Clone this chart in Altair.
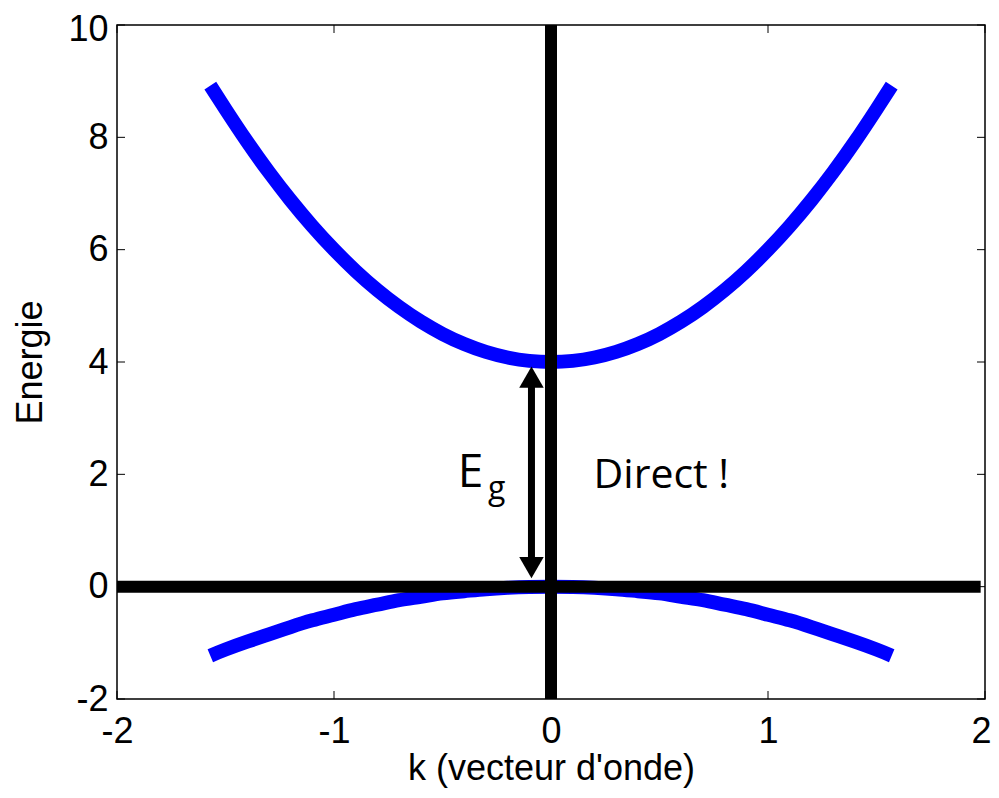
import altair as alt
import pandas as pd

# ---- data ----
k_vals = [-1.57, -1.5, -1.4, -1.3, -1.2, -1.1, -1.0, -0.9, -0.8, -0.7, -0.6, -0.5, -0.4, -0.3, -0.2, -0.1, 0.0,
          0.1, 0.2, 0.3, 0.4, 0.5, 0.6, 0.7, 0.8, 0.9, 1.0, 1.1, 1.2, 1.3, 1.4, 1.5, 1.57]
conduction = [8.92, 8.5, 7.92, 7.38, 6.88, 6.42, 6.0, 5.62, 5.28, 4.98, 4.72, 4.5, 4.32, 4.18, 4.08, 4.02, 4.0,
              4.02, 4.08, 4.18, 4.32, 4.5, 4.72, 4.98, 5.28, 5.62, 6.0, 6.42, 6.88, 7.38, 7.92, 8.5, 8.92]
valence = [-1.23, -1.12, -0.98, -0.85, -0.72, -0.6, -0.5, -0.4, -0.32, -0.24, -0.18, -0.12, -0.08, -0.045, -0.02, -0.005, 0.0,
           -0.005, -0.02, -0.045, -0.08, -0.12, -0.18, -0.24, -0.32, -0.4, -0.5, -0.6, -0.72, -0.85, -0.98, -1.12, -1.23]

x_ticks = [-2, -1, 0, 1, 2]
y_ticks = [-2, 0, 2, 4, 6, 8, 10]

# horizontal (E=0) and vertical (k=0) reference lines
hline_k = [-2.0, 1.98]
vline_E = [-2.0, 10.0]

# gap arrow (k position, bottom, top)
arrow_k = -0.09
arrow_bottom = 0.34
arrow_top = 3.73

# annotations: (label, k, E)
ann_E = ("E", -0.43, 1.775)
ann_g = ("g", -0.29, 1.555)
ann_direct = ("Direct !", 0.196, 1.757)

W, H = 868, 674
AXIS_FONT = "Liberation Sans"
ANN_FONT = "Open Sans"

xscale = alt.Scale(domain=[-2, 2], nice=False, zero=False)
yscale = alt.Scale(domain=[-2, 10], nice=False, zero=False)

xaxis = alt.Axis(values=x_ticks, tickSize=0, domain=False, grid=False,
                 labelFont=AXIS_FONT, labelFontSize=36, labelPadding=15,
                 labelFlush=False, labelOverlap=False, labelColor="black",
                 labelExpr="'' + datum.value",
                 labelOffset={"condition": {"test": "datum.value == 2", "value": -4}, "value": 0},
                 titleFont=AXIS_FONT, titleFontSize=36, titleFontWeight="normal",
                 titlePadding=2, titleColor="black")
yaxis = alt.Axis(values=y_ticks, tickSize=0, domain=False, grid=False,
                 labelFont=AXIS_FONT, labelFontSize=36, labelPadding=9,
                 labelFlush=False, labelOverlap=False, labelColor="black",
                 labelExpr="'' + datum.value",
                 labelOffset={"condition": {"test": "datum.value == 10", "value": 4}, "value": 0},
                 titleFont=AXIS_FONT, titleFontSize=36, titleFontWeight="normal",
                 titlePadding=18, titleColor="black")


def X(field):
    return alt.X(field, type="quantitative", scale=xscale, axis=xaxis, title="k (vecteur d'onde)")


def Y(field):
    return alt.Y(field, type="quantitative", scale=yscale, axis=yaxis, title="Energie")


bands = pd.DataFrame({
    "k": k_vals * 2,
    "E": conduction + valence,
    "band": ["c"] * len(k_vals) + ["v"] * len(k_vals),
    "order": list(range(len(k_vals))) * 2,
})

curves = alt.Chart(bands).mark_line(color="#0000FF", strokeWidth=14, strokeCap="butt",
                                    interpolate="natural").encode(
    x=X("k"), y=Y("E"), detail="band:N", order="order:Q")

hline = alt.Chart(pd.DataFrame({"k": [hline_k[0]], "k2": [hline_k[1]], "E": [0.0]})).mark_rule(
    color="black", strokeWidth=12, strokeCap="butt").encode(x=X("k"), x2="k2", y=Y("E"))

vline = alt.Chart(pd.DataFrame({"k": [0.0], "E": [vline_E[0]], "E2": [vline_E[1]]})).mark_rule(
    color="black", strokeWidth=12, strokeCap="butt").encode(x=X("k"), y=Y("E"), y2="E2")

shaft = alt.Chart(pd.DataFrame({"k": [arrow_k], "E": [arrow_bottom], "E2": [arrow_top]})).mark_rule(
    color="black", strokeWidth=7, strokeCap="butt").encode(x=X("k"), y=Y("E"), y2="E2")

head_up = alt.Chart(pd.DataFrame({"k": [arrow_k], "E": [arrow_top]})).mark_point(
    shape="triangle-up", filled=True, size=600, color="black", opacity=1).encode(x=X("k"), y=Y("E"))
head_down = alt.Chart(pd.DataFrame({"k": [arrow_k], "E": [arrow_bottom]})).mark_point(
    shape="triangle-down", filled=True, size=600, color="black", opacity=1).encode(x=X("k"), y=Y("E"))


def label(item, size):
    df = pd.DataFrame({"t": [item[0]], "k": [item[1]], "E": [item[2]]})
    return alt.Chart(df).mark_text(font=ANN_FONT, fontSize=size, align="left",
                                   baseline="alphabetic", color="black").encode(
        x=X("k"), y=Y("E"), text="t:N")


txt_E = label(ann_E, 46)
txt_g = label(ann_g, 32)
txt_direct = label(ann_direct, 41)

# MATLAB-style inward ticks on all four sides
ytick_df = pd.DataFrame({"E": y_ticks})
xtick_df = pd.DataFrame({"k": x_ticks})
tl = alt.Chart(ytick_df).mark_rule(color="black", strokeWidth=1).encode(
    y=Y("E"), x=alt.value(0), x2=alt.value(8))
tr = alt.Chart(ytick_df).mark_rule(color="black", strokeWidth=1).encode(
    y=Y("E"), x=alt.value(W - 8), x2=alt.value(W))
tb = alt.Chart(xtick_df).mark_rule(color="black", strokeWidth=1).encode(
    x=X("k"), y=alt.value(H - 8), y2=alt.value(H))
tt = alt.Chart(xtick_df).mark_rule(color="black", strokeWidth=1).encode(
    x=X("k"), y=alt.value(0), y2=alt.value(8))

chart = alt.layer(curves, hline, vline, shaft, head_up, head_down, txt_E, txt_g, txt_direct,
                  tl, tr, tb, tt).properties(
    width=W, height=H,
    autosize=alt.AutoSizeParams(type="none"),
    padding={"left": 109, "top": 17, "right": 6, "bottom": 90},
    background="white",
).configure_view(stroke="black", strokeWidth=1.5)

chart.save("out.html", embed_options={"renderer": "svg", "actions": False})
